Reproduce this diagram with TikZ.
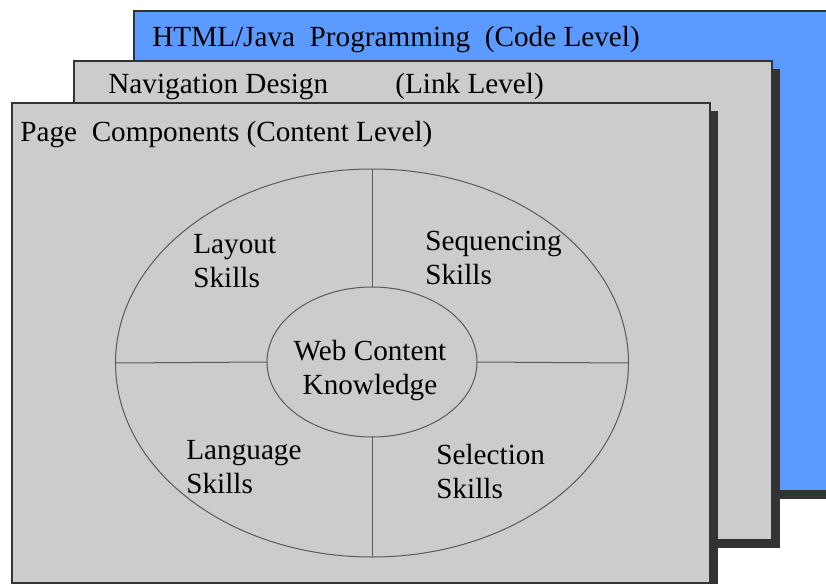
\documentclass[tikz,border=0pt]{standalone}
\usepackage{fontspec}
\setmainfont{Liberation Serif}
\usetikzlibrary{shapes.geometric}
\definecolor{codeblue}{RGB}{91,155,255}
\definecolor{panelgray}{RGB}{204,204,204}
\definecolor{shadowgray}{RGB}{51,51,51}
\tikzset{
  layer/.style={draw=black!80, line width=0.6pt, fill=panelgray},
  drop/.style={fill=shadowgray},
  lbl/.style={inner sep=0pt, align=left, font=\fontsize{14.6}{17}\selectfont},
  ring/.style={draw=black!65, line width=0.5pt, ellipse, inner sep=0pt, outer sep=0pt},
  divider/.style={draw=black!65, line width=0.5pt},
}

\begin{document}
\begin{tikzpicture}[x=0.5pt,y=-0.5pt]
\useasboundingbox (0,0) rectangle (826,584);
\clip (0,0) rectangle (826,584);

% code level
\fill[drop] (142,19) rectangle (850,499);
\draw[layer, fill=codeblue] (134,11) rectangle (850,491);
\node[lbl, anchor=base west] (code) at (152,46) {HTML/Java\ \ Programming\ \ (Code Level)};

% link level
\fill[drop] (82,69) rectangle (780,548);
\draw[layer] (74,61) rectangle (772,540);
\node[lbl, anchor=base west] (nav) at (108,93) {Navigation Design};
\node[lbl, anchor=base west] (link) at (395,93) {(Link Level)};

% content level
\fill[drop] (20,111) rectangle (718,592);
\draw[layer] (12,103) rectangle (710,583);
\node[lbl, anchor=base west] (page) at (20,141) {Page\ \ Components (Content Level)};

\node[ring, minimum width=256.5pt, minimum height=194pt] (skills) at (372,363) {};
\node[ring, minimum width=105pt, minimum height=75pt] (core) at (372,362) {};
\draw[divider] (core.north) -- (skills.north);
\draw[divider] (core.south) -- (skills.south);
\draw[divider] (core.west) -- (skills.west);
\draw[divider] (core.east) -- (skills.east);

\node[lbl, anchor=base west] (layout) at (193,287) {Layout\\Skills};
\node[lbl, anchor=base west] (seq) at (425,284) {Sequencing\\Skills};
\node[lbl, anchor=base west] (lang) at (186,493) {Language\\Skills};
\node[lbl, anchor=base west] (sel) at (436,498) {Selection\\Skills};
\node[lbl, align=center, anchor=base] (wck) at (370,394) {Web Content\\Knowledge};
\end{tikzpicture}
\end{document}
